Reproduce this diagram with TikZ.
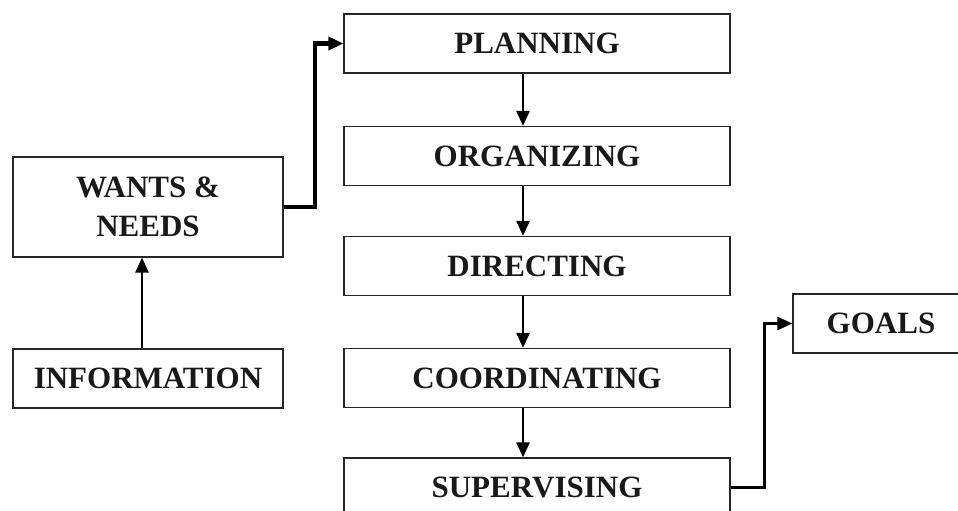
\documentclass[tikz,border=0pt]{standalone}
\usepackage{fontspec}
\setmainfont{Liberation Serif}
\usetikzlibrary{arrows.meta}
\begin{document}
\begin{tikzpicture}[x=1pt,y=-1pt,
  box/.style={draw=black!85,line width=1.2pt,rectangle,inner sep=0pt,
    font=\fontsize{31}{39}\selectfont\bfseries,text=black!90,align=center},
  midbox/.style={box,minimum width=386pt,minimum height=59pt},
  conn/.style={draw=black,line width=2.6pt,-{Triangle[length=15pt,width=13pt]}},
  thickconn/.style={conn,line width=4.2pt}]
\useasboundingbox (0,0) rectangle (958,511);
\begin{scope}
\clip (0,0) rectangle (958,511);
\node[midbox] (plan)  at (537,43.5) {PLANNING};
\node[midbox] (org)   at (537,156)  {ORGANIZING};
\node[midbox] (dir)   at (537,266)  {DIRECTING};
\node[midbox] (coord) at (537,378)  {COORDINATING};
\node[midbox] (sup)   at (537,487.5){SUPERVISING};
\node[box,minimum width=270pt,minimum height=100pt] (wants) at (148,207) {\raisebox{-3pt}{}WANTS \&\\NEEDS};
\node[box,minimum width=270pt,minimum height=59pt] (info) at (148,378.5) {INFORMATION};
\node[box,minimum width=176pt,minimum height=59pt] (goals) at (881,323.5) {GOALS};

\draw[conn] ([xshift=-14pt]plan.south) -- ([xshift=-14pt]org.north);
\draw[conn] ([xshift=-14pt]org.south) -- ([xshift=-14pt]dir.north);
\draw[conn] ([xshift=-14pt]dir.south) -- ([xshift=-14pt]coord.north);
\draw[conn] ([xshift=-14pt]coord.south) -- ([xshift=-14pt]sup.north);
\draw[conn] ([xshift=-6pt]info.north) -- ([xshift=-6pt]wants.south);
\draw[thickconn] (wants.east) -- ++(31,0) |- (plan.west);
\draw[conn] (sup.east) -- ++(34,0) |- (goals.west);
\end{scope}
\end{tikzpicture}
\end{document}
